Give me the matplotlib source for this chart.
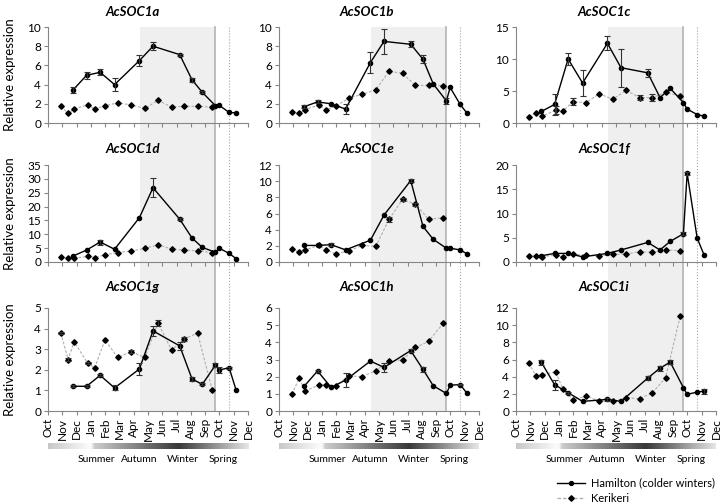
import numpy as np
import matplotlib
matplotlib.use("Agg")
import matplotlib.pyplot as plt
from matplotlib import transforms
from matplotlib.patches import Rectangle
from matplotlib.lines import Line2D

plt.rcParams['font.family'] = ['Lato', 'DejaVu Sans']

# months from Oct (0) to Dec of the following year (14)
months = ['Oct', 'Nov', 'Dec', 'Jan', 'Feb', 'Mar', 'Apr', 'May', 'Jun',
          'Jul', 'Aug', 'Sep', 'Oct', 'Nov', 'Dec']
seasons = ['Summer', 'Autumn', 'Winter', 'Spring']

# sampling dates (in months after 1 Oct)
ham_dates = [1.77, 2.7, 3.65, 4.66, 6.4, 7.35, 9.22, 10.08, 10.8, 11.72, 11.98, 12.68, 13.17]
ker_dates = [0.9, 1.41, 1.83, 2.78, 3.27, 3.98, 4.89, 5.82, 6.78, 7.7, 8.65, 9.55, 10.47, 11.5]

# winter window / bud break markers
shade_start, shade_end, dotted_x = 6.45, 11.72, 12.68

genes = ['AcSOC1a', 'AcSOC1b', 'AcSOC1c', 'AcSOC1d', 'AcSOC1e',
         'AcSOC1f', 'AcSOC1g', 'AcSOC1h', 'AcSOC1i']

a_ham = [3.47, 4.97, 5.28, 4.0, 6.5, 8.0, 7.12, 4.5, 3.2, 1.8, 1.85, 1.1, 1.05]
a_ham_err = [0.3, 0.35, 0.3, 0.7, 0.55, 0.4, 0.1, 0.2, 0.1, 0, 0, 0, 0]
a_ker = [1.74, 1.0, 1.45, 1.9, 1.45, 1.8, 2.1, 1.88, 1.52, 2.36, 1.66, 1.74, 1.74, 1.66]
a_ker_err = [0] * 14

b_ham = [1.7, 2.2, 2.0, 1.45, 6.3, 8.5, 8.2, 6.64, 4.06, 2.3, 3.7, 1.94, 1.0]
b_ham_err = [0.15, 0.15, 0, 0.5, 1.1, 1.3, 0.3, 0.4, 0, 0.3, 0, 0, 0]
b_ker = [1.1, 1.0, 1.4, 1.87, 1.34, 1.77, 2.58, 3.0, 3.46, 5.4, 5.16, 3.92, 3.92, 3.89]
b_ker_err = [0] * 14

c_ham = [1.8, 2.9, 10.0, 6.25, 12.45, 8.64, 7.84, 3.97, 5.4, 3.18, 2.17, 1.32, 1.06]
c_ham_err = [0, 1.6, 0.9, 2.0, 1.1, 3.0, 0.6, 0, 0, 0, 0, 0, 0]
c_ker = [1.0, 1.6, 1.06, 2.0, 1.8, 3.34, 3.18, 4.56, 3.71, 5.09, 3.97, 3.97, 4.77, 4.24]
c_ker_err = [0, 0, 0, 0.6, 0, 0.5, 0, 0, 0, 0, 0.4, 0.5, 0, 0]

d_ham = [2.2, 4.3, 7.2, 4.6, 16.0, 26.8, 15.45, 8.67, 5.27, 3.5, 5.0, 3.1, 1.2]
d_ham_err = [0, 0, 0.9, 0, 0, 3.4, 0.4, 0, 0, 0, 0, 0, 0]
d_ker = [1.76, 1.3, 1.4, 2.0, 1.6, 2.6, 3.4, 4.0, 4.9, 6.2, 4.7, 4.3, 4.0, 3.4]
d_ker_err = [0] * 14

e_ham = [2.05, 2.05, 2.14, 1.5, 2.7, 5.8, 10.07, 4.4, 2.8, 1.7, 1.7, 1.5, 1.0]
e_ham_err = [0, 0, 0.15, 0, 0, 0, 0.15, 0, 0, 0, 0, 0, 0]
e_ker = [1.63, 1.2, 1.5, 2.05, 1.5, 1.0, 1.37, 2.05, 1.93, 5.27, 7.75, 7.15, 5.3, 5.45]
e_ker_err = [0, 0, 0, 0, 0, 0, 0, 0, 0, 0.3, 0.15, 0.2, 0, 0]

f_ham = [1.28, 1.77, 1.77, 1.06, 1.77, 2.48, 4.04, 2.48, 4.26, 5.82, 18.3, 4.96, 1.4]
f_ham_err = [0, 0, 0, 0, 0, 0, 0, 0, 0, 0.3, 0.3, 0, 0]
f_ker = [1.2, 1.28, 1.1, 1.4, 1.06, 1.63, 1.4, 1.2, 1.56, 1.63, 2.13, 1.99, 2.48, 2.34]
f_ker_err = [0] * 14

g_ham = [1.2, 1.2, 1.73, 1.12, 2.04, 3.89, 3.16, 1.56, 1.29, 2.23, 1.99, 2.1, 1.01]
g_ham_err = [0.05, 0.05, 0.05, 0.12, 0.3, 0.25, 0.2, 0.1, 0.05, 0.08, 0.15, 0.05, 0]
g_ker = [3.78, 2.5, 3.37, 2.31, 2.1, 3.45, 2.6, 2.88, 2.6, 4.27, 2.96, 3.5, 3.78, 1.01]
g_ker_err = [0.05, 0.08, 0, 0.05, 0, 0, 0, 0.08, 0, 0.15, 0, 0.1, 0, 0]

h_ham = [1.45, 2.33, 1.37, 1.8, 2.91, 2.54, 3.52, 2.42, 1.47, 1.02, 1.5, 1.54, 1.02]
h_ham_err = [0, 0.08, 0, 0.4, 0, 0.25, 0.1, 0.15, 0, 0, 0, 0.05, 0]
h_ker = [0.98, 1.9, 1.17, 1.5, 1.54, 1.47, 2.05, 2.0, 2.35, 2.91, 2.97, 3.7, 4.05, 5.12]
h_ker_err = [0] * 14

i_ham = [5.69, 3.06, 2.13, 1.12, 1.35, 1.12, 3.83, 4.99, 5.69, 2.71, 1.94, 2.2, 2.32]
i_ham_err = [0.3, 0.6, 0.1, 0, 0.2, 0, 0.2, 0.3, 0.2, 0, 0, 0, 0.3]
i_ker = [5.57, 4.06, 4.22, 4.57, 2.6, 1.32, 1.74, 1.16, 1.12, 1.55, 1.43, 2.13, 3.87, 11.1]
i_ker_err = [0] * 14

ham_vals = [a_ham, b_ham, c_ham, d_ham, e_ham, f_ham, g_ham, h_ham, i_ham]
ham_errs = [a_ham_err, b_ham_err, c_ham_err, d_ham_err, e_ham_err, f_ham_err, g_ham_err, h_ham_err, i_ham_err]
ker_vals = [a_ker, b_ker, c_ker, d_ker, e_ker, f_ker, g_ker, h_ker, i_ker]
ker_errs = [a_ker_err, b_ker_err, c_ker_err, d_ker_err, e_ker_err, f_ker_err, g_ker_err, h_ker_err, i_ker_err]
y_max = [10, 10, 15, 35, 12, 20, 5, 6, 12]
y_step = [2, 2, 5, 5, 2, 5, 1, 1, 2]

W, H = 722, 504
col_left = [48, 279, 516]
col_w = 200
rows = [(27, 123), (165, 262), (308, 411)]
title_y = [12, 149, 287]
title_x = [133, 367, 604]
spine_col = '#868686'
ker_col = '#b0b0b0'
ker_ls = (0, (2.5, 1.5))

fig = plt.figure(figsize=(W / 100, H / 100), dpi=100)

axes = []
for k, gene in enumerate(genes):
    r, c = divmod(k, 3)
    x0 = col_left[c]
    y0, y1 = rows[r]
    ax = fig.add_axes([x0 / W, 1 - y1 / H, col_w / W, (y1 - y0) / H])
    ax.set_facecolor('none')
    axes.append(ax)

    ax.plot(ker_dates, ker_vals[k], color=ker_col, lw=0.8, ls=ker_ls, zorder=2)
    ax.plot(ker_dates, ker_vals[k], 'D', color='k', ms=2.8, zorder=4)
    ax.plot(ham_dates, ham_vals[k], '-o', color='k', lw=1.0, ms=3.0, zorder=3)

    for dates, vals, errs in [(ham_dates, ham_vals[k], ham_errs[k]), (ker_dates, ker_vals[k], ker_errs[k])]:
        xs = [d for d, e in zip(dates, errs) if e > 0]
        ys = [v for v, e in zip(vals, errs) if e > 0]
        es = [e for e in errs if e > 0]
        if xs:
            ax.errorbar(xs, ys, yerr=es, fmt='none', ecolor='#333333', elinewidth=0.8,
                        capsize=2.2, capthick=0.8, zorder=5)

    ax.set_xlim(0, 14)
    ax.set_ylim(0, y_max[k])
    ax.set_yticks(np.arange(0, y_max[k] + 0.01, y_step[k]))
    ax.set_xticks(range(15))
    for s in ['top', 'right']:
        ax.spines[s].set_visible(False)
    for s in ['left', 'bottom']:
        ax.spines[s].set_color(spine_col)
        ax.spines[s].set_linewidth(0.8)
    ax.tick_params(axis='both', colors=spine_col, length=3, width=0.8, labelsize=8.5,
                   labelcolor='black', pad=2)
    if r == 2:
        ax.set_xticklabels(months, rotation=90, fontsize=8.5)
    else:
        ax.set_xticklabels([])

    fig.text(title_x[c] / W, 1 - title_y[r] / H, gene, ha='center', va='center',
             fontsize=9.5, fontweight='bold', fontstyle='italic')
    if c == 0:
        fig.text(10 / W, 1 - (y0 + y1) / 2 / H, 'Relative expression', rotation=90,
                 ha='center', va='center', fontsize=9.5)

# winter shading band running through each column of panels
top_f = 1 - rows[0][0] / H
bot_f = 1 - rows[2][1] / H
for c in range(3):
    ax = axes[6 + c]
    tr = transforms.blended_transform_factory(ax.transData, fig.transFigure)
    fig.add_artist(Rectangle((shade_start, bot_f), shade_end - shade_start, top_f - bot_f,
                             transform=tr, facecolor='#efefef', edgecolor='none', zorder=-2))
    fig.add_artist(Line2D([shade_end, shade_end], [bot_f, top_f], transform=tr,
                          color='#b4b4b4', lw=1.2, zorder=-1))
    fig.add_artist(Line2D([dotted_x, dotted_x], [bot_f, top_f], transform=tr,
                          color='#a6a6a6', lw=0.8, ls=':', zorder=-1))

# season gradient bars
stops_pos = [0.0, 0.2, 0.215, 0.23, 0.65, 1.0]
stops_val = [0.78, 0.98, 0.98, 0.8, 0.22, 0.9]
grad = np.interp(np.linspace(0, 1, 400), stops_pos, stops_val).reshape(1, -1)
season_off = [48, 91, 135, 175]
for c in range(3):
    x0 = col_left[c]
    bax = fig.add_axes([x0 / W, 1 - 449 / H, col_w / W, 6 / H])
    bax.imshow(grad, cmap='gray', vmin=0, vmax=1, aspect='auto')
    bax.axis('off')
    for s, off in zip(seasons, season_off):
        fig.text((x0 + off) / W, 1 - 459 / H, s, ha='center', va='center', fontsize=7.5)

# legend
for y, lbl, col, ls, mk in [(483, 'Hamilton (colder winters)', 'k', '-', 'o'),
                            (498, 'Kerikeri', ker_col, ker_ls, 'D')]:
    yf = 1 - y / H
    fig.add_artist(Line2D([557 / W, 585 / W], [yf, yf], color=col, lw=1.0, ls=ls))
    fig.add_artist(Line2D([571 / W], [yf], marker=mk, color='k', ms=2.8))
    fig.text(591 / W, yf, lbl, ha='left', va='center', fontsize=8)

fig.savefig('out.png', dpi=100)
